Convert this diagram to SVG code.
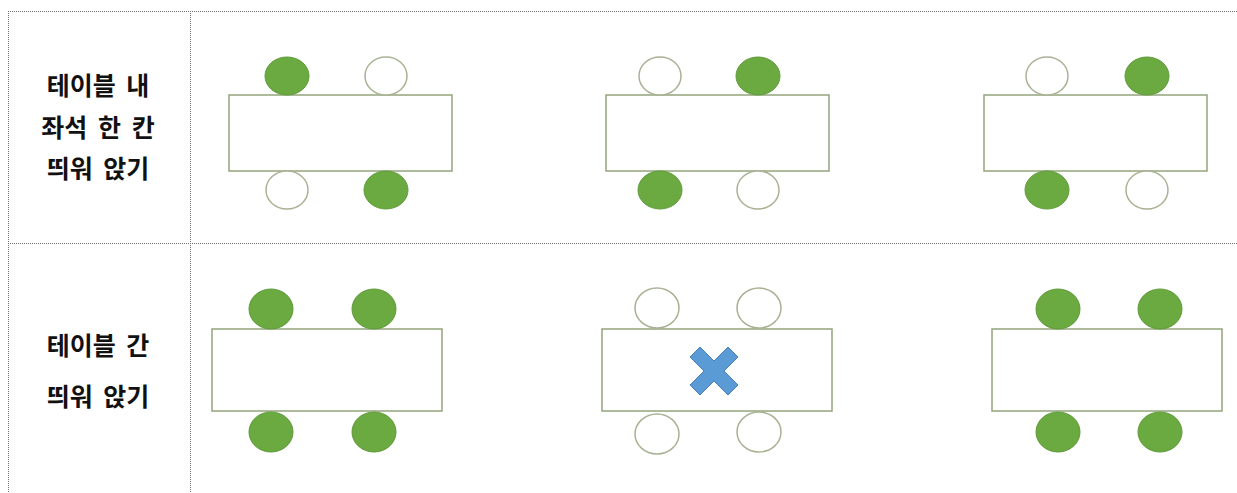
<svg xmlns="http://www.w3.org/2000/svg" width="1237" height="493" viewBox="0 0 1237 493">
<style>
.grid{stroke:#707070;stroke-width:1;stroke-dasharray:1 1;fill:none}
.tbl{fill:#ffffff;stroke:#94a47c;stroke-width:1.5}
.on{fill:#6aaa40;stroke:#5f9a3a;stroke-width:1}
.off{fill:#ffffff;stroke:#a9b294;stroke-width:1.5}
.lbl{font-family:"Noto Sans CJK KR","Noto Sans",sans-serif;font-weight:bold;font-size:25px;fill:#111;text-anchor:middle;word-spacing:5px}
.x{fill:#5b9bd5;stroke:#4a80b8;stroke-width:1}
</style>
<rect width="1237" height="493" fill="#ffffff"/>
<g id="grid">
<line class="grid" x1="8" y1="11.5" x2="1237" y2="11.5"/>
<line class="grid" x1="8" y1="243.5" x2="1237" y2="243.5"/>
<line class="grid" x1="8.5" y1="11" x2="8.5" y2="493"/>
<line class="grid" x1="190.5" y1="11" x2="190.5" y2="493"/>
</g>
<g id="label1">
<text class="lbl" x="98" y="95">테이블 내</text>
<text class="lbl" x="98" y="137">좌석 한 칸</text>
<text class="lbl" x="98" y="178">띄워 앉기</text>
</g>
<g id="label2">
<text class="lbl" x="98" y="355">테이블 간</text>
<text class="lbl" x="98" y="406">띄워 앉기</text>
</g>
<g id="table-r1c1">
<rect class="tbl" x="229" y="95" width="223" height="76"/>
<ellipse class="on" cx="287" cy="76" rx="22" ry="19"/>
<ellipse class="off" cx="386" cy="76" rx="21" ry="19"/>
<ellipse class="off" cx="287" cy="190" rx="21" ry="19"/>
<ellipse class="on" cx="386" cy="190" rx="22" ry="19"/>
</g>
<g id="table-r1c2">
<rect class="tbl" x="606" y="95" width="223" height="76"/>
<ellipse class="off" cx="660" cy="76" rx="21" ry="19"/>
<ellipse class="on" cx="758" cy="76" rx="22" ry="19"/>
<ellipse class="on" cx="660" cy="190" rx="22" ry="19"/>
<ellipse class="off" cx="758" cy="190" rx="21" ry="19"/>
</g>
<g id="table-r1c3">
<rect class="tbl" x="984" y="95" width="223" height="76"/>
<ellipse class="off" cx="1047" cy="76" rx="21" ry="19"/>
<ellipse class="on" cx="1147" cy="76" rx="22" ry="19"/>
<ellipse class="on" cx="1047" cy="190" rx="22" ry="19"/>
<ellipse class="off" cx="1147" cy="190" rx="21" ry="19"/>
</g>
<g id="table-r2c1">
<rect class="tbl" x="212" y="329" width="230" height="82"/>
<ellipse class="on" cx="271" cy="309" rx="22" ry="20"/>
<ellipse class="on" cx="374" cy="309" rx="22" ry="20"/>
<ellipse class="on" cx="271" cy="432" rx="22" ry="20"/>
<ellipse class="on" cx="374" cy="432" rx="22" ry="20"/>
</g>
<g id="table-r2c2">
<rect class="tbl" x="602" y="329" width="230" height="82"/>
<ellipse class="off" cx="657" cy="308" rx="22" ry="20"/>
<ellipse class="off" cx="759" cy="308" rx="22" ry="20"/>
<ellipse class="off" cx="657" cy="434" rx="22" ry="20"/>
<ellipse class="off" cx="759" cy="432" rx="22" ry="20"/>
<polygon class="x" transform="translate(714,371)" points="-24,-14 -14,-24 0,-10 14,-24 24,-14 10,0 24,14 14,24 0,10 -14,24 -24,14 -10,0"/>
</g>
<g id="table-r2c3">
<rect class="tbl" x="992" y="329" width="230" height="82"/>
<ellipse class="on" cx="1058" cy="309" rx="22" ry="20"/>
<ellipse class="on" cx="1160" cy="309" rx="22" ry="20"/>
<ellipse class="on" cx="1058" cy="432" rx="22" ry="20"/>
<ellipse class="on" cx="1160" cy="432" rx="22" ry="20"/>
</g>
</svg>
